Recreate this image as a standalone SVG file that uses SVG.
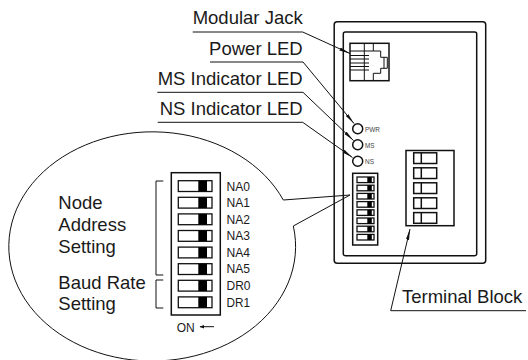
<svg xmlns="http://www.w3.org/2000/svg" width="528" height="360" viewBox="0 0 528 360">
<defs>
<style>
.l{fill:none;stroke:#111;stroke-width:1}
.m{fill:none;stroke:#111;stroke-width:1.5}
.b{font-family:"Liberation Sans",Arial,sans-serif;font-size:18.5px;fill:#1a1a1a}
.s{font-family:"Liberation Sans",Arial,sans-serif;font-size:13.5px;fill:#1a1a1a}
.t{font-family:"Liberation Sans",Arial,sans-serif;font-size:7.5px;fill:#444}
.sw{fill:#fff;stroke:#111;stroke-width:1.3}
.k{fill:#000}
</style>
<marker id="a" markerUnits="userSpaceOnUse" markerWidth="12" markerHeight="6" refX="11" refY="3" orient="auto"><path d="M0 1.4L11 3L0 4.6Z" fill="#111"/></marker>
</defs>
<g id="connectors">
<path class="l" marker-end="url(#a)" d="M192.7 32H302.7L350 53.5"/>
<path class="l" marker-end="url(#a)" d="M210 62H303L354 123.5"/>
<path class="l" marker-end="url(#a)" d="M157.3 92.3H303L353.5 140.5"/>
<path class="l" marker-end="url(#a)" d="M157.7 122.3H302.7L352.5 157.5"/>
<path class="l" marker-end="url(#a)" d="M526 310.7H390.7L410 229"/>
</g>
<g id="device">
<rect class="m" x="334.2" y="21.7" width="151.5" height="241.5" rx="3"/>
<rect class="m" x="343.3" y="32" width="133.4" height="223.7" rx="2"/>
</g>
<g id="modular-jack">
<rect class="m" x="350" y="43.3" width="39" height="37.4"/>
<path class="l" d="M364.3 43.3V80.7M373.3 43.3V51H380.7V57.3H387.3V68.3H380.7V73.3H373.3V80.7M384 57.3V68.3M350 51H373.3M350 55.5H369M350 59H369M350 63H369M350 66.5H369M350 70H369"/>
</g>
<g id="led-pwr"><circle class="m" cx="357.7" cy="128.7" r="5"/><text class="t" x="365" y="131.5" textLength="15" lengthAdjust="spacingAndGlyphs">PWR</text></g>
<g id="led-ms"><circle class="m" cx="357.7" cy="144.8" r="5"/><text class="t" x="365" y="147.6" textLength="9.5" lengthAdjust="spacingAndGlyphs">MS</text></g>
<g id="led-ns"><circle class="m" cx="357.7" cy="161.3" r="5"/><text class="t" x="365" y="164" textLength="9" lengthAdjust="spacingAndGlyphs">NS</text></g>
<g id="dip-small">
<rect class="m" x="352.7" y="173.3" width="25" height="71.7"/>
<g id="dip-small-switches">
<rect class="sw" x="357" y="177" width="17" height="5.6"/><rect class="k" x="367.3" y="177" width="4.5" height="5.6"/>
<rect class="sw" x="357" y="185.2" width="17" height="5.6"/><rect class="k" x="367.3" y="185.2" width="4.5" height="5.6"/>
<rect class="sw" x="357" y="193.4" width="17" height="5.6"/><rect class="k" x="367.3" y="193.4" width="4.5" height="5.6"/>
<rect class="sw" x="357" y="201.6" width="17" height="5.6"/><rect class="k" x="367.3" y="201.6" width="4.5" height="5.6"/>
<rect class="sw" x="357" y="209.8" width="17" height="5.6"/><rect class="k" x="367.3" y="209.8" width="4.5" height="5.6"/>
<rect class="sw" x="357" y="218" width="17" height="5.6"/><rect class="k" x="367.3" y="218" width="4.5" height="5.6"/>
<rect class="sw" x="357" y="226.2" width="17" height="5.6"/><rect class="k" x="367.3" y="226.2" width="4.5" height="5.6"/>
<rect class="sw" x="357" y="234.4" width="17" height="5.6"/><rect class="k" x="367.3" y="234.4" width="4.5" height="5.6"/>
</g>
</g>
<g id="terminal-block">
<rect class="m" x="406" y="150.5" width="48" height="75.2"/>
<g class="m">
<rect x="413.7" y="152.8" width="23" height="10.7"/><path d="M421.3 152.8V163.5"/>
<rect x="413.7" y="167.8" width="23" height="10.7"/><path d="M421.3 167.8V178.5"/>
<rect x="413.7" y="182.8" width="23" height="10.7"/><path d="M421.3 182.8V193.5"/>
<rect x="413.7" y="197.8" width="23" height="10.7"/><path d="M421.3 197.8V208.5"/>
<rect x="413.7" y="212.6" width="23" height="10.7"/><path d="M421.3 212.6V223.3"/>
</g>
</g>
<g id="callout">
<path class="l" d="M283.3 200L350 195L293.3 226A143.4 114.6 0 1 1 283.3 200Z"/>
</g>
<g id="dip-large">
<rect class="m" x="171.3" y="172.7" width="49" height="142.3"/>
<rect class="sw" x="178.3" y="180.7" width="33.7" height="10.8"/><rect class="k" x="198.3" y="180.7" width="8.7" height="10.8"/>
<rect class="sw" x="178.3" y="197.3" width="33.7" height="10.8"/><rect class="k" x="198.3" y="197.3" width="8.7" height="10.8"/>
<rect class="sw" x="178.3" y="213.9" width="33.7" height="10.8"/><rect class="k" x="198.3" y="213.9" width="8.7" height="10.8"/>
<rect class="sw" x="178.3" y="230.5" width="33.7" height="10.8"/><rect class="k" x="198.3" y="230.5" width="8.7" height="10.8"/>
<rect class="sw" x="178.3" y="247.1" width="33.7" height="10.8"/><rect class="k" x="198.3" y="247.1" width="8.7" height="10.8"/>
<rect class="sw" x="178.3" y="263.7" width="33.7" height="10.8"/><rect class="k" x="198.3" y="263.7" width="8.7" height="10.8"/>
<rect class="sw" x="178.3" y="280.3" width="33.7" height="10.8"/><rect class="k" x="198.3" y="280.3" width="8.7" height="10.8"/>
<rect class="sw" x="178.3" y="296.9" width="33.7" height="10.8"/><rect class="k" x="198.3" y="296.9" width="8.7" height="10.8"/>
<text class="s" x="226.5" y="190.7" textLength="23.5" lengthAdjust="spacingAndGlyphs">NA0</text>
<text class="s" x="226.5" y="207.3" textLength="23.5" lengthAdjust="spacingAndGlyphs">NA1</text>
<text class="s" x="226.5" y="223.5" textLength="23.5" lengthAdjust="spacingAndGlyphs">NA2</text>
<text class="s" x="226.5" y="240.2" textLength="23.5" lengthAdjust="spacingAndGlyphs">NA3</text>
<text class="s" x="226.5" y="256.8" textLength="23.5" lengthAdjust="spacingAndGlyphs">NA4</text>
<text class="s" x="226.5" y="273.3" textLength="23.5" lengthAdjust="spacingAndGlyphs">NA5</text>
<text class="s" x="226.5" y="290" textLength="24" lengthAdjust="spacingAndGlyphs">DR0</text>
<text class="s" x="226.5" y="306.7" textLength="23.5" lengthAdjust="spacingAndGlyphs">DR1</text>
<text class="s" x="176.7" y="331.7" textLength="18" lengthAdjust="spacingAndGlyphs">ON</text>
<path class="l" d="M200 326.7H214"/>
<path d="M199.5 326.7L204 325V328.4Z" fill="#111"/>
</g>
<g id="brackets">
<path class="l" d="M163.3 181H156V275H163.3"/>
<path class="l" d="M163.3 280H156V308H163.3"/>
</g>
<g id="labels">
<text class="b" x="302.7" y="24" text-anchor="end">Modular Jack</text>
<text class="b" x="302.7" y="54.7" text-anchor="end">Power LED</text>
<text class="b" x="302.7" y="85" text-anchor="end">MS Indicator LED</text>
<text class="b" x="302.7" y="115" text-anchor="end">NS Indicator LED</text>
<text class="b" x="402" y="303">Terminal Block</text>
<text class="b" x="58.3" y="209.3">Node</text>
<text class="b" x="58.3" y="231">Address</text>
<text class="b" x="58.3" y="252.7">Setting</text>
<text class="b" x="58.3" y="289.3">Baud Rate</text>
<text class="b" x="58.3" y="310">Setting</text>
</g>
</svg>
